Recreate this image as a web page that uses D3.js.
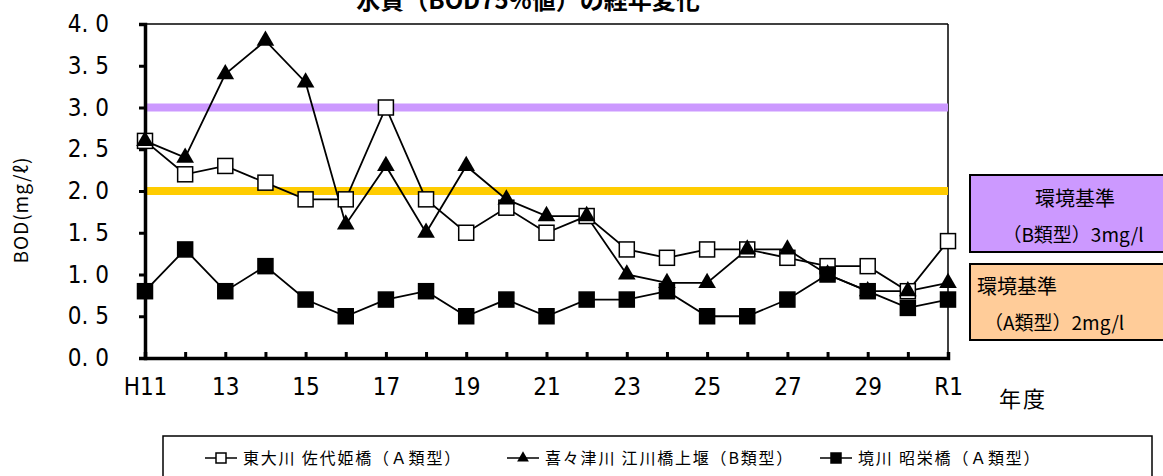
<!DOCTYPE html>
<html>
<head>
<meta charset="utf-8">
<script src="https://cdn.jsdelivr.net/npm/d3@7"></script>
<style>
  body { margin: 0; background: #fff; }
  svg { display: block; font-family: "Noto Sans CJK JP", "Noto Sans", sans-serif; }
</style>
</head>
<body>
<div id="chart"></div>
<script>
// 年度ラベル
const years = ["H11","H12","H13","H14","H15","H16","H17","H18","H19","H20","H21","H22","H23","H24","H25","H26","H27","H28","H29","H30","R1"];
const tickLabels = {"H11":"H11","H13":"13","H15":"15","H17":"17","H19":"19","H21":"21","H23":"23","H25":"25","H27":"27","H29":"29","R1":"R1"};
const yTicks = [0, 0.5, 1.0, 1.5, 2.0, 2.5, 3.0, 3.5, 4.0];

// 各地点のBOD75%値
const higashiOkawa = [2.6, 2.2, 2.3, 2.1, 1.9, 1.9, 3.0, 1.9, 1.5, 1.8, 1.5, 1.7, 1.3, 1.2, 1.3, 1.3, 1.2, 1.1, 1.1, 0.8, 1.4];
const kikitsu     = [2.6, 2.4, 3.4, 3.8, 3.3, 1.6, 2.3, 1.5, 2.3, 1.9, 1.7, 1.7, 1.0, 0.9, 0.9, 1.3, 1.3, 1.0, 0.8, 0.8, 0.9];
const sakaigawa   = [0.8, 1.3, 0.8, 1.1, 0.7, 0.5, 0.7, 0.8, 0.5, 0.7, 0.5, 0.7, 0.7, 0.8, 0.5, 0.5, 0.7, 1.0, 0.8, 0.6, 0.7];

const seriesNames = ["東大川 佐代姫橋（Ａ類型）", "喜々津川 江川橋上堰（B類型）", "境川 昭栄橋（Ａ類型）"];
const standards = [3.0, 2.0];

const width = 1163, height = 476;
const plotLeft = 145, plotRight = 948, plotTop = 24, plotBottom = 358;
const numFont = "'Liberation Sans Narrow', 'DejaVu Sans Condensed', sans-serif";

const svg = d3.select("#chart").append("svg").attr("width", width).attr("height", height);

const x = d3.scalePoint().domain(years).range([plotLeft, plotRight]);
const y = d3.scaleLinear().domain([0, 4]).range([plotBottom, plotTop]);

// title (上が切れている)
svg.append("text")
  .attr("x", 528).attr("y", 9)
  .attr("text-anchor", "middle")
  .style("font-size", "24px").style("font-weight", "bold")
  .text("水質（BOD75%値）の経年変化");

// 枠線
svg.append("line").attr("x1", plotLeft).attr("x2", plotRight).attr("y1", plotTop).attr("y2", plotTop).attr("stroke", "#000").attr("stroke-width", 1.5);
svg.append("line").attr("x1", plotRight).attr("x2", plotRight).attr("y1", plotTop).attr("y2", plotBottom).attr("stroke", "#000").attr("stroke-width", 1.5);

// 環境基準ライン
const stdColors = ["#cc99ff", "#ffcc00"];
svg.selectAll(".std").data(standards).join("line")
  .attr("x1", plotLeft).attr("x2", plotRight)
  .attr("y1", d => y(d)).attr("y2", d => y(d))
  .attr("stroke", (d, i) => stdColors[i])
  .attr("stroke-width", 8);

// y axis
const yAxis = svg.append("g")
  .attr("transform", `translate(${plotLeft},0)`)
  .call(d3.axisLeft(y).tickValues(yTicks).tickSize(6).tickPadding(30).tickFormat(d => d3.format(".1f")(d).replace(".", ". ")));
yAxis.select(".domain").attr("stroke-width", 3.5);
yAxis.selectAll(".tick line").attr("stroke-width", 3);
yAxis.selectAll("text").style("font-size", "24px").style("font-family", numFont).attr("fill", "#000");

// x axis
const xAxis = svg.append("g")
  .attr("transform", `translate(0,${plotBottom})`)
  .call(d3.axisBottom(x).tickSize(-6).tickPadding(20).tickFormat(d => tickLabels[d] || ""));
xAxis.select(".domain").attr("stroke-width", 3.5);
xAxis.selectAll(".tick line").attr("stroke-width", 3);
xAxis.selectAll("text").style("font-size", "24px").style("font-family", numFont).attr("fill", "#000");

svg.append("text").attr("x", 999).attr("y", 407).style("font-size", "22px").style("letter-spacing", "2px").text("年度");

svg.append("text")
  .attr("transform", "translate(28,210) rotate(-90)")
  .attr("text-anchor", "middle")
  .style("font-size", "19px")
  .style("letter-spacing", "1px")
  .text("BOD(mg/ℓ)");

// series
const series = [
  { values: higashiOkawa, marker: "openSquare" },
  { values: kikitsu, marker: "triangle" },
  { values: sakaigawa, marker: "filledSquare" }
];

function drawMarker(g, type, size) {
  if (type === "triangle") {
    g.append("path").attr("d", d3.symbol(d3.symbolTriangle, size * size * 0.6)()).attr("fill", "#000");
  } else {
    g.append("rect").attr("x", -size / 2).attr("y", -size / 2).attr("width", size).attr("height", size)
      .attr("fill", type === "openSquare" ? "#fff" : "#000").attr("stroke", "#000").attr("stroke-width", 1.5);
  }
}

const line = d3.line().x((d, i) => x(years[i])).y(d => y(d));

series.forEach(s => {
  svg.append("path").datum(s.values).attr("d", line).attr("fill", "none").attr("stroke", "#000").attr("stroke-width", 1.8);
});
series.forEach(s => {
  s.values.forEach((v, i) => {
    const g = svg.append("g").attr("transform", `translate(${x(years[i])},${y(v)})`);
    drawMarker(g, s.marker, 15);
  });
});

// 環境基準ボックス
const boxB = svg.append("g");
boxB.append("rect").attr("x", 970).attr("y", 175).attr("width", 200).attr("height", 77).attr("fill", "#cc99ff").attr("stroke", "#000").attr("stroke-width", 2);
boxB.append("text").attr("x", 1075).attr("y", 206).attr("text-anchor", "middle").style("font-size", "20px").text("環境基準");
boxB.append("text").attr("x", 1073).attr("y", 242).attr("text-anchor", "middle").style("font-size", "19px").text("（B類型）3mg/l");

const boxA = svg.append("g");
boxA.append("rect").attr("x", 970).attr("y", 264).attr("width", 200).attr("height", 76).attr("fill", "#ffcc99").attr("stroke", "#000").attr("stroke-width", 2);
boxA.append("text").attr("x", 977).attr("y", 294).style("font-size", "20px").text("環境基準");
boxA.append("text").attr("x", 984).attr("y", 330).style("font-size", "19px").text("（A類型）2mg/l");

// legend
svg.append("rect").attr("x", 163).attr("y", 436).attr("width", 989).attr("height", 50).attr("fill", "#fff").attr("stroke", "#000").attr("stroke-width", 1.5);
const legendX = [205, 507, 820];
series.forEach((s, i) => {
  const g = svg.append("g").attr("transform", `translate(${legendX[i]},458)`);
  g.append("line").attr("x1", 0).attr("x2", 32).attr("stroke", "#000").attr("stroke-width", 1.5);
  const m = g.append("g").attr("transform", "translate(16,0)");
  drawMarker(m, s.marker, 10);
  g.append("text").attr("x", 38).attr("y", 6).style("font-size", "16px").style("letter-spacing", "1.8px").text(seriesNames[i]);
});
</script>
</body>
</html>
